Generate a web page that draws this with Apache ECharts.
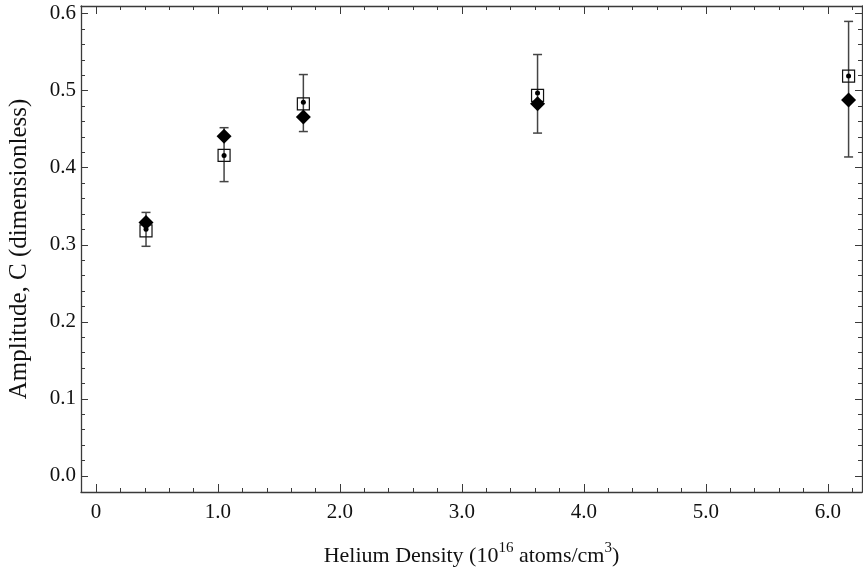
<!DOCTYPE html>
<html>
<head>
<meta charset="utf-8">
<script src="https://cdn.jsdelivr.net/npm/echarts@6/dist/echarts.min.js"></script>
<style>html,body{margin:0;padding:0;background:#fff}#c{width:863px;height:571px}</style>
</head>
<body>
<div id="c"></div>
<script>
// Data
var density = [0.41, 1.05, 1.70, 3.62, 6.17];
var diamondVals = [0.329, 0.441, 0.466, 0.483, 0.488];
var squareVals = [0.318, 0.416, 0.483, 0.494, 0.519];
var dotVals = [0.320, 0.416, 0.485, 0.497, 0.519];
var errLow = [0.298, 0.382, 0.447, 0.445, 0.414];
var errHigh = [0.342, 0.452, 0.521, 0.547, 0.590];
var xMajorTicks = [0, 1, 2, 3, 4, 5, 6];
var yMajorTicks = [0, 0.1, 0.2, 0.3, 0.4, 0.5, 0.6];

var X_MIN = -0.123, X_MAX = 6.28, Y_MIN = -0.021, Y_MAX = 0.61;
function range(a, b, s) { var r = []; for (var v = a; v <= b + 1e-9; v += s) r.push(Math.round(v * 1000) / 1000); return r; }
var xMinor = range(0, 6.2, 0.2).filter(function (v) { return Math.abs(v - Math.round(v)) > 1e-6; });
var yMinor = range(0, 0.6, 0.02).filter(function (v) { return Math.abs(v * 10 - Math.round(v * 10)) > 1e-6; });

var FONT = '"Liberation Serif", "Times New Roman", serif';
var AX = '#3a3a3a';

function xAx(pos, major, showLabel) {
  return {
    type: 'value', position: pos, min: X_MIN, max: X_MAX, gridIndex: 0,
    axisLine: { show: major, onZero: false, lineStyle: { color: AX, width: 1.3 } },
    splitLine: { show: false },
    axisTick: { show: true, inside: true, length: major ? 8 : 4, customValues: major ? xMajorTicks : xMinor, lineStyle: { color: AX, width: 1 } },
    axisLabel: { show: showLabel, customValues: xMajorTicks, margin: 10, color: '#111', fontFamily: FONT, fontSize: 21,
      formatter: function (v) { return v === 0 ? '0' : v.toFixed(1); } }
  };
}
function yAx(pos, major, showLabel) {
  return {
    type: 'value', position: pos, min: Y_MIN, max: Y_MAX, gridIndex: 0,
    axisLine: { show: major, onZero: false, lineStyle: { color: AX, width: 1.3 } },
    splitLine: { show: false },
    axisTick: { show: true, inside: true, length: major ? 7 : 4, customValues: major ? yMajorTicks : yMinor, lineStyle: { color: AX, width: 1 } },
    axisLabel: { show: showLabel, customValues: yMajorTicks, margin: 5, color: '#111', fontFamily: FONT, fontSize: 21,
      formatter: function (v) { return v.toFixed(1); } }
  };
}

var xAxes = [xAx('bottom', true, true), xAx('bottom', false, false), xAx('top', true, false), xAx('top', false, false)];
xAxes[0].name = '{a|Helium Density (10}{s|16}{a| atoms/cm}{s|3}{a|)}';
xAxes[0].nameLocation = 'middle';
xAxes[0].nameGap = 49;
xAxes[0].nameTextStyle = { rich: {
  a: { fontFamily: FONT, fontSize: 22, color: '#111', lineHeight: 26, verticalAlign: 'bottom' },
  s: { fontFamily: FONT, fontSize: 15, color: '#111', lineHeight: 26, verticalAlign: 'top' } } };
var yAxes = [yAx('left', true, true), yAx('left', false, false), yAx('right', true, false), yAx('right', false, false)];
yAxes[0].name = 'Amplitude, C (dimensionless)';
yAxes[0].nameLocation = 'middle';
yAxes[0].nameGap = 49;
yAxes[0].nameTextStyle = { fontFamily: FONT, fontSize: 25, color: '#111' };

function pairs(vals) { return density.map(function (x, i) { return [x, vals[i]]; }); }
var errData = density.map(function (x, i) { return [x, errLow[i], errHigh[i]]; });

var option = {
  animation: false,
  grid: { left: 81, right: 1, top: 6, bottom: 79, containLabel: false, outerBoundsMode: 'none' },
  xAxis: xAxes,
  yAxis: yAxes,
  series: [
    {
      type: 'custom', xAxisIndex: 0, yAxisIndex: 0, data: errData, z: 2,
      renderItem: function (params, api) {
        var lo = api.coord([api.value(0), api.value(1)]);
        var hi = api.coord([api.value(0), api.value(2)]);
        var w = 4.5;
        var st = { stroke: '#444', lineWidth: 1.5 };
        return { type: 'group', children: [
          { type: 'line', shape: { x1: hi[0], y1: hi[1], x2: lo[0], y2: lo[1] }, style: st },
          { type: 'line', shape: { x1: hi[0] - w, y1: hi[1], x2: hi[0] + w, y2: hi[1] }, style: st },
          { type: 'line', shape: { x1: lo[0] - w, y1: lo[1], x2: lo[0] + w, y2: lo[1] }, style: st }
        ] };
      }
    },
    {
      type: 'scatter', xAxisIndex: 0, yAxisIndex: 0, data: pairs(squareVals), z: 3,
      symbol: 'rect', symbolSize: 12,
      itemStyle: { color: 'rgba(0,0,0,0)', borderColor: '#111', borderWidth: 1.2, opacity: 1 }
    },
    {
      type: 'scatter', xAxisIndex: 0, yAxisIndex: 0, data: pairs(dotVals), z: 4,
      symbol: 'circle', symbolSize: 5, itemStyle: { color: '#000', opacity: 1 }
    },
    {
      type: 'scatter', xAxisIndex: 0, yAxisIndex: 0, data: pairs(diamondVals), z: 5,
      symbol: 'diamond', symbolSize: [15, 15], itemStyle: { color: '#000', opacity: 1 }
    }
  ]
};
var chart = echarts.init(document.getElementById('c'), null, { renderer: 'canvas' });
chart.setOption(option);
</script>
</body>
</html>
